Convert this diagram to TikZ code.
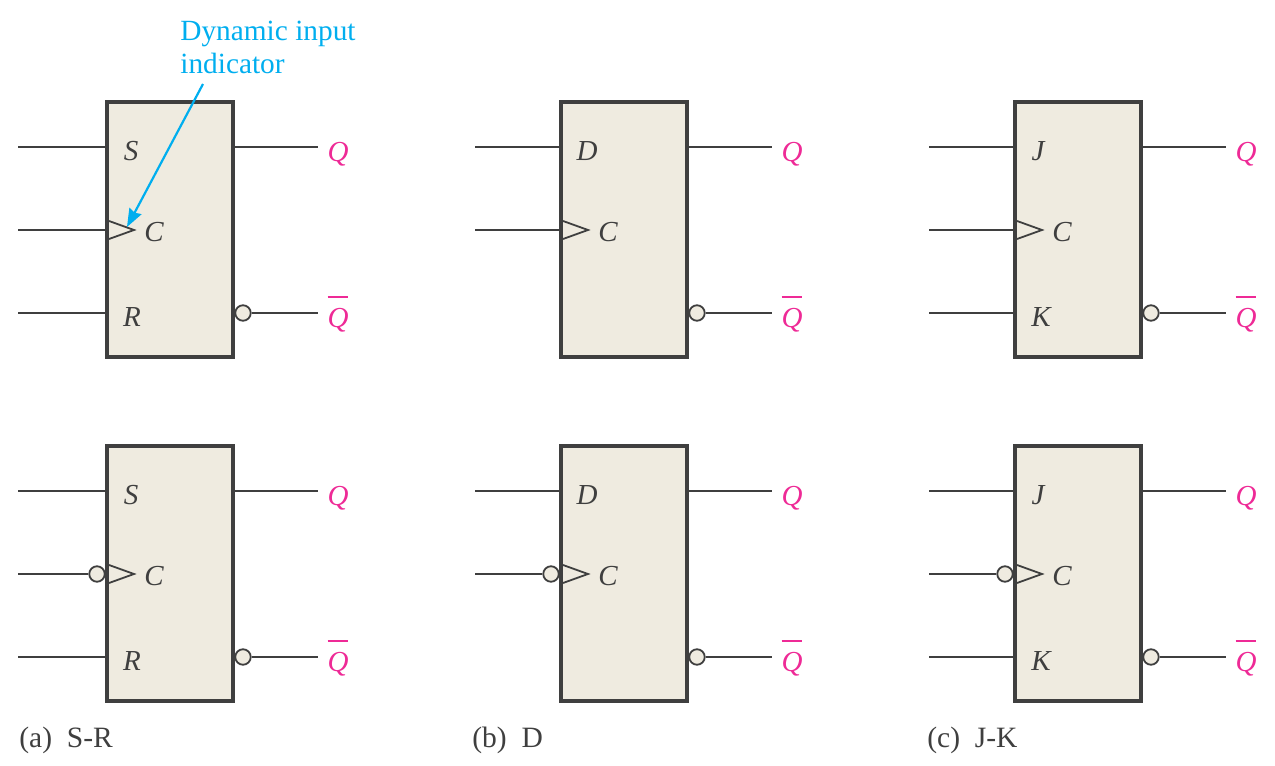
\documentclass[tikz,border=0pt]{standalone}
\usepackage{fontspec}
\setmainfont{Liberation Serif}
\usetikzlibrary{arrows.meta}
\definecolor{boxfill}{HTML}{EFEBE0}
\definecolor{inkgray}{HTML}{3F3F3F}
\definecolor{qpink}{HTML}{EE2A96}
\definecolor{notecyan}{HTML}{00AEEF}
\newcommand{\qbar}{\vbox{\hrule height 0.85pt\kern6pt\hbox{Q}}}

\begin{document}
\begin{tikzpicture}[
        x=0.02cm, y=-0.02cm,
        ff_box/.style={draw=inkgray, line width=0.08cm, fill=boxfill, minimum width=2.52cm, minimum height=5.09cm, inner sep=0pt},
        pin_text/.style={text=inkgray, inner sep=0pt, font=\fontsize{16.5}{18}\selectfont\itshape},
        q_text/.style={text=qpink, inner xsep=5pt, inner ysep=0pt, font=\fontsize{16.5}{18}\selectfont\itshape},
        caption_text/.style={text=inkgray, anchor=west, inner sep=0pt, font=\fontsize{16.8}{18}\selectfont},
        note_text/.style={text=notecyan, align=left, anchor=north west, inner sep=0pt, font=\fontsize{16.7}{18.7}\selectfont},
        wire/.style={draw=inkgray, line width=0.032cm},
        clock/.style={draw=inkgray, line width=0.036cm},
        bubble/.style={draw=inkgray, line width=0.036cm, circle, fill=boxfill, minimum size=0.31cm, inner sep=0pt},
        note_arrow/.style={-{Stealth[length=0.36cm, width=0.27cm, inset=1pt]}, draw=notecyan, line width=0.044cm}
    ]
        \useasboundingbox (0,0) rectangle (1275,766);

        % S-R, upper
        \node[ff_box] (sr_pos) at (170,229.5) {};
        \node[pin_text] (sr_pos_s) at (131,151) {S};
        \node[pin_text] (sr_pos_c) at (154,232) {C};
        \node[pin_text] (sr_pos_r) at (132,317) {R};
        \node[q_text] (sr_pos_q) at (338,154) {Q};
        \node[q_text] (sr_pos_nq) at (338,314) {\qbar};
        \node[bubble] (sr_pos_out) at (243,313) {};
        \coordinate (sr_pos_in1) at (18,147);
        \coordinate (sr_pos_in2) at (18,230);
        \coordinate (sr_pos_in3) at (18,313);
        \draw[clock] (109,221) -- (134,230) -- (109,239);
        \draw[wire] (sr_pos_in1) -- (sr_pos_in1 -| sr_pos.west);
        \draw[wire] (sr_pos_in2) -- (sr_pos_in2 -| sr_pos.west);
        \draw[wire] (sr_pos_in3) -- (sr_pos_in3 -| sr_pos.west);
        \draw[wire] (sr_pos_in1 -| sr_pos.east) -- (sr_pos_in1 -| sr_pos_q.west);
        \draw[wire] (sr_pos_out) -- (sr_pos_out -| sr_pos_q.west);

        % dynamic input note
        \node[note_text] (note) at (180,21) {Dynamic input\\indicator};
        \coordinate (note_start) at (203,84);
        \coordinate (note_end) at (127,227);
        \draw[note_arrow] (note_start) -- (note_end);

        % D, upper
        \node[ff_box] (d_pos) at (624,229.5) {};
        \node[pin_text] (d_pos_d) at (587,151) {D};
        \node[pin_text] (d_pos_c) at (608,232) {C};
        \node[q_text] (d_pos_q) at (792,154) {Q};
        \node[q_text] (d_pos_nq) at (792,314) {\qbar};
        \node[bubble] (d_pos_out) at (697,313) {};
        \coordinate (d_pos_in1) at (475,147);
        \coordinate (d_pos_in2) at (475,230);
        \draw[clock] (563,221) -- (588,230) -- (563,239);
        \draw[wire] (d_pos_in1) -- (d_pos_in1 -| d_pos.west);
        \draw[wire] (d_pos_in2) -- (d_pos_in2 -| d_pos.west);
        \draw[wire] (d_pos_in1 -| d_pos.east) -- (d_pos_in1 -| d_pos_q.west);
        \draw[wire] (d_pos_out) -- (d_pos_out -| d_pos_q.west);

        % J-K, upper
        \node[ff_box] (jk_pos) at (1078,229.5) {};
        \node[pin_text] (jk_pos_j) at (1038,151) {J};
        \node[pin_text] (jk_pos_c) at (1062,232) {C};
        \node[pin_text] (jk_pos_k) at (1041,317) {K};
        \node[q_text] (jk_pos_q) at (1246,154) {Q};
        \node[q_text] (jk_pos_nq) at (1246,314) {\qbar};
        \node[bubble] (jk_pos_out) at (1151,313) {};
        \coordinate (jk_pos_in1) at (929,147);
        \coordinate (jk_pos_in2) at (929,230);
        \coordinate (jk_pos_in3) at (929,313);
        \draw[clock] (1017,221) -- (1042,230) -- (1017,239);
        \draw[wire] (jk_pos_in1) -- (jk_pos_in1 -| jk_pos.west);
        \draw[wire] (jk_pos_in2) -- (jk_pos_in2 -| jk_pos.west);
        \draw[wire] (jk_pos_in3) -- (jk_pos_in3 -| jk_pos.west);
        \draw[wire] (jk_pos_in1 -| jk_pos.east) -- (jk_pos_in1 -| jk_pos_q.west);
        \draw[wire] (jk_pos_out) -- (jk_pos_out -| jk_pos_q.west);

        % S-R, lower
        \node[ff_box] (sr_neg) at (170,573.5) {};
        \node[pin_text] (sr_neg_s) at (131,495) {S};
        \node[pin_text] (sr_neg_c) at (154,576) {C};
        \node[pin_text] (sr_neg_r) at (132,661) {R};
        \node[q_text] (sr_neg_q) at (338,498) {Q};
        \node[q_text] (sr_neg_nq) at (338,658) {\qbar};
        \node[bubble] (sr_neg_out) at (243,657) {};
        \node[bubble] (sr_neg_clk) at (97,574) {};
        \coordinate (sr_neg_in1) at (18,491);
        \coordinate (sr_neg_in2) at (18,574);
        \coordinate (sr_neg_in3) at (18,657);
        \draw[clock] (109,565) -- (134,574) -- (109,583);
        \draw[wire] (sr_neg_in1) -- (sr_neg_in1 -| sr_neg.west);
        \draw[wire] (sr_neg_in2) -- (sr_neg_clk);
        \draw[wire] (sr_neg_in3) -- (sr_neg_in3 -| sr_neg.west);
        \draw[wire] (sr_neg_in1 -| sr_neg.east) -- (sr_neg_in1 -| sr_neg_q.west);
        \draw[wire] (sr_neg_out) -- (sr_neg_out -| sr_neg_q.west);

        % D, lower
        \node[ff_box] (d_neg) at (624,573.5) {};
        \node[pin_text] (d_neg_d) at (587,495) {D};
        \node[pin_text] (d_neg_c) at (608,576) {C};
        \node[q_text] (d_neg_q) at (792,498) {Q};
        \node[q_text] (d_neg_nq) at (792,658) {\qbar};
        \node[bubble] (d_neg_out) at (697,657) {};
        \node[bubble] (d_neg_clk) at (551,574) {};
        \coordinate (d_neg_in1) at (475,491);
        \coordinate (d_neg_in2) at (475,574);
        \draw[clock] (563,565) -- (588,574) -- (563,583);
        \draw[wire] (d_neg_in1) -- (d_neg_in1 -| d_neg.west);
        \draw[wire] (d_neg_in2) -- (d_neg_clk);
        \draw[wire] (d_neg_in1 -| d_neg.east) -- (d_neg_in1 -| d_neg_q.west);
        \draw[wire] (d_neg_out) -- (d_neg_out -| d_neg_q.west);

        % J-K, lower
        \node[ff_box] (jk_neg) at (1078,573.5) {};
        \node[pin_text] (jk_neg_j) at (1038,495) {J};
        \node[pin_text] (jk_neg_c) at (1062,576) {C};
        \node[pin_text] (jk_neg_k) at (1041,661) {K};
        \node[q_text] (jk_neg_q) at (1246,498) {Q};
        \node[q_text] (jk_neg_nq) at (1246,658) {\qbar};
        \node[bubble] (jk_neg_out) at (1151,657) {};
        \node[bubble] (jk_neg_clk) at (1005,574) {};
        \coordinate (jk_neg_in1) at (929,491);
        \coordinate (jk_neg_in2) at (929,574);
        \coordinate (jk_neg_in3) at (929,657);
        \draw[clock] (1017,565) -- (1042,574) -- (1017,583);
        \draw[wire] (jk_neg_in1) -- (jk_neg_in1 -| jk_neg.west);
        \draw[wire] (jk_neg_in2) -- (jk_neg_clk);
        \draw[wire] (jk_neg_in3) -- (jk_neg_in3 -| jk_neg.west);
        \draw[wire] (jk_neg_in1 -| jk_neg.east) -- (jk_neg_in1 -| jk_neg_q.west);
        \draw[wire] (jk_neg_out) -- (jk_neg_out -| jk_neg_q.west);

        % captions
        \node[caption_text] (cap_a) at (19,740) {(a)\ \ S-R};
        \node[caption_text] (cap_b) at (472,740) {(b)\ \ D};
        \node[caption_text] (cap_c) at (927,740) {(c)\ \ J-K};
    \end{tikzpicture}
\end{document}
